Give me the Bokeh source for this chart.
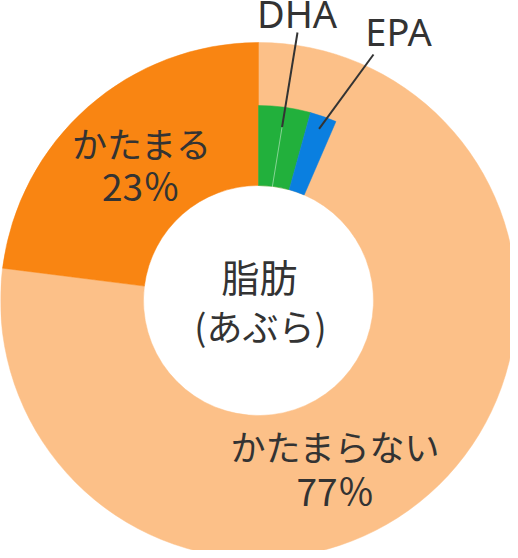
import math
from bokeh.plotting import figure
from bokeh.models import Range1d
from bokeh.embed import file_html
from bokeh.resources import INLINE
from bokeh.core.properties import value

# ---- data ----
outer_labels = ["かたまらない", "かたまる"]
outer_pct_labels = ["77％", "23％"]
outer_values = [77, 23]
inner_labels = ["DHA", "EPA"]
inner_values = [4.3, 2.2]
center_labels = ["脂肪", "(あぶら)"]

outer_colors = ["#FCC088", "#F98512"]
inner_colors = ["#22B03C", "#0A7FE0"]
TEXT = "#333333"
FONT = value("Noto Sans CJK JP")
LATIN = value("Noto Sans")

W, H = 510, 550
p = figure(width=W, height=H, x_range=Range1d(0, W), y_range=Range1d(0, H),
           output_backend="svg", toolbar_location=None, min_border=0,
           x_axis_type=None, y_axis_type=None)
p.grid.visible = False
p.outline_line_color = None
p.background_fill_color = "white"
p.border_fill_color = "white"


def Y(screen_y):
    return H - screen_y


cx, cy = 258, Y(300)
R_OUT, R_IN, R_MID = 258, 115, 195


def wedge_angles(values):
    total = 100.0
    starts, ends = [], []
    acc = 0.0
    for v in values:
        a, b = acc, acc + v
        starts.append(math.radians(90 - b / total * 360))
        ends.append(math.radians(90 - a / total * 360))
        acc = b
    return starts, ends


s, e = wedge_angles(outer_values)
p.annular_wedge(x=[cx] * len(s), y=[cy] * len(s), inner_radius=R_IN, outer_radius=R_OUT,
                start_angle=s, end_angle=e, fill_color=outer_colors,
                line_color=outer_colors, line_width=0.5)

s2, e2 = wedge_angles(inner_values)
p.annular_wedge(x=[cx] * len(s2), y=[cy] * len(s2), inner_radius=R_IN, outer_radius=R_MID,
                start_angle=s2, end_angle=e2, fill_color=inner_colors,
                line_color=inner_colors, line_width=0.5)


def point(theta_deg_cw, rr):
    t = math.radians(theta_deg_cw)
    return cx + rr * math.sin(t), cy + rr * math.cos(t)


# mid angles of inner wedges (clockwise from top)
acc = 0.0
mids = []
for v in inner_values:
    mids.append((acc + v / 2) * 3.6)
    acc += v

# leader lines
dha_start = point(mids[0], 175)
dha_end = (297, Y(32))
epa_start = point(mids[1], 182)
epa_end = (373, Y(54))

# faint continuation of the DHA leader through the ring
dx, dy = dha_start[0] - dha_end[0], dha_start[1] - dha_end[1]
t = (Y(280) - dha_end[1]) / dy
faint_end = (dha_end[0] + dx * t, Y(280))
p.line([dha_start[0], faint_end[0]], [dha_start[1], faint_end[1]],
       line_color="white", line_alpha=0.45, line_width=1)

p.line([dha_start[0], dha_end[0]], [dha_start[1], dha_end[1]], line_color=TEXT, line_width=2)
p.line([epa_start[0], epa_end[0]], [epa_start[1], epa_end[1]], line_color=TEXT, line_width=2)

# labels
p.text(x=[296.5, 398], y=[Y(12), Y(30.5)], text=inner_labels, text_font=LATIN,
       text_font_size="38px", text_color=TEXT, text_align="center", text_baseline="alphabetic")

p.text(x=[335, 141.5], y=[Y(444.5), Y(141.5)], text=outer_labels, text_font=FONT,
       text_font_size="35px", text_color=TEXT, text_align="center", text_baseline="middle")
p.text(x=[335, 140.5], y=[Y(489), Y(184)], text=outer_pct_labels, text_font=FONT,
       text_font_size="37px", text_color=TEXT, text_align="center", text_baseline="middle")

p.text(x=[259], y=[Y(275)], text=[center_labels[0]], text_font=FONT,
       text_font_size="38px", text_color=TEXT, text_align="center", text_baseline="middle")
p.text(x=[260], y=[Y(324)], text=[center_labels[1]], text_font=FONT,
       text_font_size="36px", text_color=TEXT, text_align="center", text_baseline="middle")

open("out.html", "w").write(file_html(p, INLINE))
